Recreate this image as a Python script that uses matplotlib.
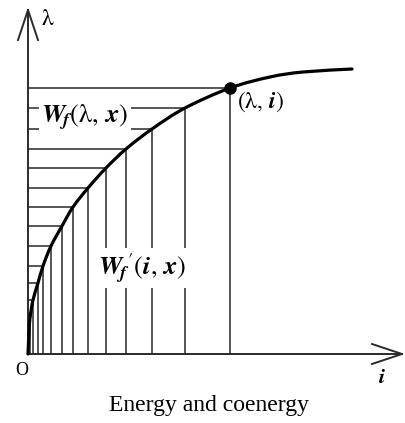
import numpy as np
import matplotlib.pyplot as plt
from matplotlib.path import Path
from matplotlib.patches import PathPatch

plt.rcParams['mathtext.fontset'] = 'stix'
plt.rcParams['font.family'] = ['Liberation Serif', 'DejaVu Serif']

# points where the hatching levels meet the curve (i, lambda)
stair_i = [2, 5, 10, 15, 23, 34, 45, 60, 78, 98, 124, 157, 202]
stair_lam = [36, 54, 71, 88, 108, 128, 147, 166, 186, 205, 225, 246, 266]

# remaining points
curve_i = [0, 1] + stair_i + [242, 275, 324]
curve_lam = [0, 22] + stair_lam + [277, 282, 285]

op_i, op_lam = 202, 266          # operating point (lambda, i)


def smooth_path(xs, ys):
    # Catmull-Rom through the points, written as cubic Bezier segments
    p = np.column_stack([xs, ys]).astype(float)
    verts = [p[0]]
    codes = [Path.MOVETO]
    for k in range(len(p) - 1):
        p0 = p[k - 1] if k > 0 else p[k]
        p3 = p[k + 2] if k + 2 < len(p) else p[k + 1]
        c1 = p[k] + (p[k + 1] - p0) / 6
        c2 = p[k + 1] - (p3 - p[k]) / 6
        verts += [c1, c2, p[k + 1]]
        codes += [Path.CURVE4] * 3
    return Path(verts, codes)


fig = plt.figure(figsize=(4.06, 4.23), dpi=100)
ax = fig.add_axes([0, 0, 1, 1])
ax.set_xlim(-28, 378)
ax.set_ylim(-69, 354)
ax.axis('off')

hatch = dict(color='#3a3a3a', lw=1.2, zorder=1)
for i, lam in zip(stair_i, stair_lam):
    ax.plot([0, i], [lam, lam], **hatch)
    ax.plot([i, i], [0, lam], **hatch)

ax.add_patch(PathPatch(smooth_path(curve_i, curve_lam), facecolor='none',
                       edgecolor='black', lw=2.3, capstyle='round', zorder=4))
ax.plot([op_i], [op_lam], 'o', color='black', ms=8, zorder=5)

# axes with open arrow heads
axis = dict(color='#2a2a2a', lw=1.4, zorder=3)
ax.plot([0, 0], [0, 344], **axis)
ax.plot([0, 374], [0, 0], **axis)
ax.plot([-10, 0, 10], [314, 344, 314], **axis)
ax.plot([344, 374, 344], [10, 0, -10], **axis)

ax.text(13, 335, r'$\mathrm{\lambda}$', fontsize=17, ha='left', va='center')
ax.text(350, -24, r'$\mathbfit{i}$', fontsize=16, ha='left', va='center')
ax.text(-6, -16, 'O', fontsize=13, ha='center', va='center')

box = dict(facecolor='white', edgecolor='none', pad=2)
ax.text(57, 236, r'$\mathbfit{W}_{\!\mathbfit{f}}(\mathrm{\lambda},\,\mathbfit{x})$',
        fontsize=19, ha='center', va='center', bbox=box, zorder=2)
ax.text(114, 86, r"$\mathbfit{W}_{\!\mathbfit{f}}{}^{\prime}(\mathbfit{i},\,\mathbfit{x})$",
        fontsize=19, ha='center', va='center', bbox=box, zorder=2)
ax.text(op_i + 7, op_lam - 14, r'$(\mathrm{\lambda},\,\mathbfit{i})$',
        fontsize=17, ha='left', va='center', zorder=6)

ax.text(181, -51, 'Energy and coenergy', fontsize=17, ha='center', va='center')

fig.savefig('out.png', dpi=100)
